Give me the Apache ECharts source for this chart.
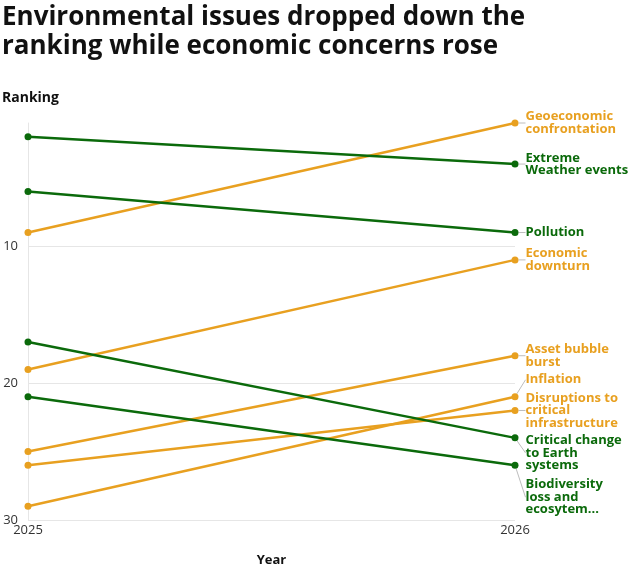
<!DOCTYPE html>
<html>
<head>
<meta charset="utf-8">
<script src="https://cdn.jsdelivr.net/npm/echarts@6/dist/echarts.min.js"></script>
<style>
  html, body { margin: 0; padding: 0; background: #fff; }
  #chart { width: 631px; height: 567px; }
</style>
</head>
<body>
<div id="chart"></div>
<script>
var years = ['2025', '2026'];
var rankTicks = [10, 20, 30];

var risks = [
    'Geoeconomic\nconfrontation',
    'Extreme\nWeather events',
    'Pollution',
    'Economic\ndownturn',
    'Asset bubble\nburst',
    'Inflation',
    'Disruptions to\ncritical\ninfrastructure',
    'Critical change\nto Earth\nsystems',
    'Biodiversity\nloss and\necosytem...'
];
var rank2025 = [9, 2, 6, 19, 25, 29, 26, 17, 21];
var rank2026 = [1, 4, 9, 11, 18, 21, 22, 24, 26];
var groups = ['eco', 'env', 'env', 'eco', 'eco', 'eco', 'eco', 'env', 'env'];
// vertical nudge of the end labels so they do not collide
var labelNudge = [0, 0, 0, 0, 0, -17, 0, 15, 32];

var GREEN = '#0b6a0b';
var ORANGE = '#e8a020';

var myChart = echarts.init(document.getElementById('chart'));

var series = risks.map(function (name, i) {
    var color = groups[i] === 'env' ? GREEN : ORANGE;
    return {
        name: name,
        type: 'line',
        symbol: 'circle',
        symbolSize: 7,
        lineStyle: { color: color, width: 2.5 },
        itemStyle: { color: color },
        emphasis: { disabled: true },
        data: [
            { value: rank2025[i] },
            {
                value: rank2026[i],
                label: {
                    show: true,
                    position: 'right',
                    distance: 7,
                    formatter: name,
                    color: color,
                    fontWeight: 'bold',
                    fontSize: 13,
                    lineHeight: 12.5,
                    fontFamily: 'Open Sans'
                }
            }
        ],
        labelLine: { show: true, length2: 0, lineStyle: { color: '#bdbdbd', width: 1 } },
        labelLayout: function () {
            return { dy: labelNudge[i] };
        }
    };
});

var option = {
    animation: false,
    title: [
        {
            text: 'Environmental issues dropped down the\nranking while economic concerns rose',
            left: 2,
            top: 3,
            padding: 0,
            textStyle: { fontFamily: 'Open Sans', fontSize: 26, fontWeight: 'bold', color: '#111', lineHeight: 29 }
        },
        {
            text: 'Ranking',
            left: 2,
            top: 91,
            padding: 0,
            textStyle: { fontFamily: 'Open Sans', fontSize: 14, fontWeight: 'bold', color: '#111' }
        }
    ],
    grid: { left: 28, right: 116, top: 123, bottom: 47, outerBoundsMode: 'none' },
    xAxis: {
        type: 'category',
        data: years,
        boundaryGap: false,
        name: 'Year',
        nameLocation: 'middle',
        nameGap: 34,
        nameTextStyle: { fontFamily: 'Open Sans', fontSize: 13, fontWeight: 'bold', color: '#111' },
        axisLine: { show: false },
        axisTick: { show: false },
        axisLabel: { color: '#333', fontSize: 13, fontFamily: 'Open Sans', margin: 4 }
    },
    yAxis: {
        type: 'value',
        inverse: true,
        min: 1,
        max: 30,
        axisLine: { show: true, lineStyle: { color: '#e6e6e6' } },
        axisTick: { show: false, customValues: rankTicks },
        axisLabel: { customValues: rankTicks, color: '#333', fontSize: 13, fontFamily: 'Open Sans', margin: 10 },
        splitLine: { show: true, lineStyle: { color: '#e6e6e6' } }
    },
    series: series
};

myChart.setOption(option);
</script>
</body>
</html>
